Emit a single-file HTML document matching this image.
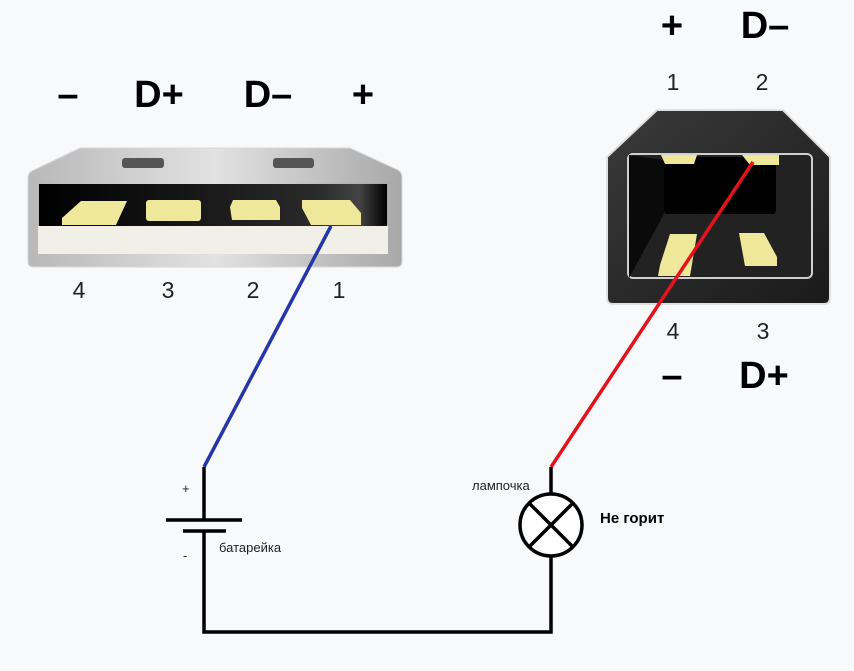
<!DOCTYPE html>
<html><head><meta charset="utf-8"><style>
html,body{margin:0;padding:0;background:#f8f9fb;}
svg{display:block;}
</style></head><body>
<svg width="854" height="671" viewBox="0 0 854 671" xmlns="http://www.w3.org/2000/svg" font-family="Liberation Sans, DejaVu Sans, sans-serif">
<defs>
<linearGradient id="ga" x1="0" x2="1" y1="0" y2="0">
<stop offset="0" stop-color="#b8b8b8"/><stop offset="0.5" stop-color="#e2e2e2"/><stop offset="1" stop-color="#a8a8a8"/>
</linearGradient>
<linearGradient id="gc" x1="0" x2="1" y1="0" y2="0">
<stop offset="0" stop-color="#000"/><stop offset="0.8" stop-color="#2a2a2a"/><stop offset="0.92" stop-color="#444"/><stop offset="1" stop-color="#000"/>
</linearGradient>
<linearGradient id="gb" x1="0" x2="1" y1="0" y2="1">
<stop offset="0" stop-color="#3a3a3a"/><stop offset="1" stop-color="#1a1a1a"/>
</linearGradient>
</defs>
<rect width="854" height="671" fill="#f8f9fb"/>
<!-- USB A -->
<path d="M80,148 L350,148 L398,170 Q402,172 402,178 L402,262 Q402,267 396,267 L34,267 Q28,267 28,262 L28,178 Q28,172 34,170 Z" fill="url(#ga)" stroke="#d8d8d8"/>
<rect x="122" y="158" width="42" height="10" rx="3" fill="#555"/>
<rect x="273" y="158" width="41" height="10" rx="3" fill="#555"/>
<rect x="38" y="183" width="350" height="44" fill="url(#ga)"/>
<rect x="39" y="184" width="348" height="43" fill="url(#gc)"/>
<rect x="38" y="226" width="350" height="28" fill="#f1f0e8"/>
<path d="M81,201 L127,201 L116,225 L62,225 L62,218 Z" fill="#efe89a"/>
<rect x="146" y="200" width="55" height="21" rx="3" fill="#efe89a"/>
<path d="M233,200 L276,200 L280,207 L280,220 L232,220 L230,207 Z" fill="#efe89a"/>
<path d="M302,200 L350,200 L361,213 L361,225 L311,225 L302,208 Z" fill="#efe89a"/>
<g font-size="23" fill="#222" text-anchor="middle">
<text x="79" y="298">4</text><text x="168" y="298">3</text><text x="253" y="298">2</text><text x="339" y="298">1</text>
</g>
<g font-size="38" font-weight="bold" fill="#000" text-anchor="middle">
<text x="68" y="107">–</text><text x="159" y="107">D+</text><text x="268" y="107">D–</text><text x="363" y="107">+</text>
</g>
<!-- USB B -->
<path d="M657,110 L783,110 L830,157 L830,298 Q830,304 824,304 L613,304 Q607,304 607,298 L607,157 Z" fill="url(#gb)" stroke="#e0e0e0" stroke-width="2"/>
<rect x="628" y="154" width="184" height="124" rx="5" fill="#222" stroke="#cfcfcf" stroke-width="2"/>
<path d="M629,155 L664,160 L664,214 L629,278 Z" fill="#0a0a0a"/>
<rect x="664" y="157" width="112" height="57" rx="3" fill="#000"/>
<path d="M661,155 L697,155 L694,164 L665,164 Z" fill="#efe89a"/>
<path d="M742,155 L779,155 L779,165 L750,165 Z" fill="#efe89a"/>
<path d="M670,234 L697,234 L690,276 L658,276 L660,265 Z" fill="#efe89a"/>
<path d="M739,233 L764,233 L777,257 L777,266 L745,266 Z" fill="#efe89a"/>
<g font-size="23" fill="#222" text-anchor="middle">
<text x="673" y="90">1</text><text x="762" y="90">2</text><text x="673" y="339">4</text><text x="763" y="339">3</text>
</g>
<g font-size="38" font-weight="bold" fill="#000" text-anchor="middle">
<text x="672" y="38">+</text><text x="765" y="38">D–</text><text x="672" y="388">–</text><text x="764" y="388">D+</text>
</g>
<!-- wires -->
<line x1="331" y1="226" x2="204" y2="467" stroke="#2436a8" stroke-width="3.5"/>
<line x1="753" y1="162" x2="551" y2="467" stroke="#e3131b" stroke-width="3.5"/>
<g stroke="#000" stroke-width="3.5" fill="none">
<polyline points="204,467 204,520"/>
<line x1="166" y1="520" x2="242" y2="520"/>
<line x1="183" y1="531" x2="226" y2="531"/>
<polyline points="204,531 204,632 551,632 551,556"/>
<line x1="551" y1="467" x2="551" y2="494"/>
<circle cx="551" cy="525" r="31" fill="#fff"/>
<line x1="529" y1="503" x2="573" y2="547"/>
<line x1="573" y1="503" x2="529" y2="547"/>
</g>
<g font-size="13" fill="#222">
<text x="182" y="493">+</text><text x="183" y="560">-</text>
<text x="219" y="552">батарейка</text>
<text x="472" y="490">лампочка</text>
</g>
<text x="600" y="523" font-size="15" font-weight="bold" fill="#000">Не горит</text>
</svg>
</body></html>
